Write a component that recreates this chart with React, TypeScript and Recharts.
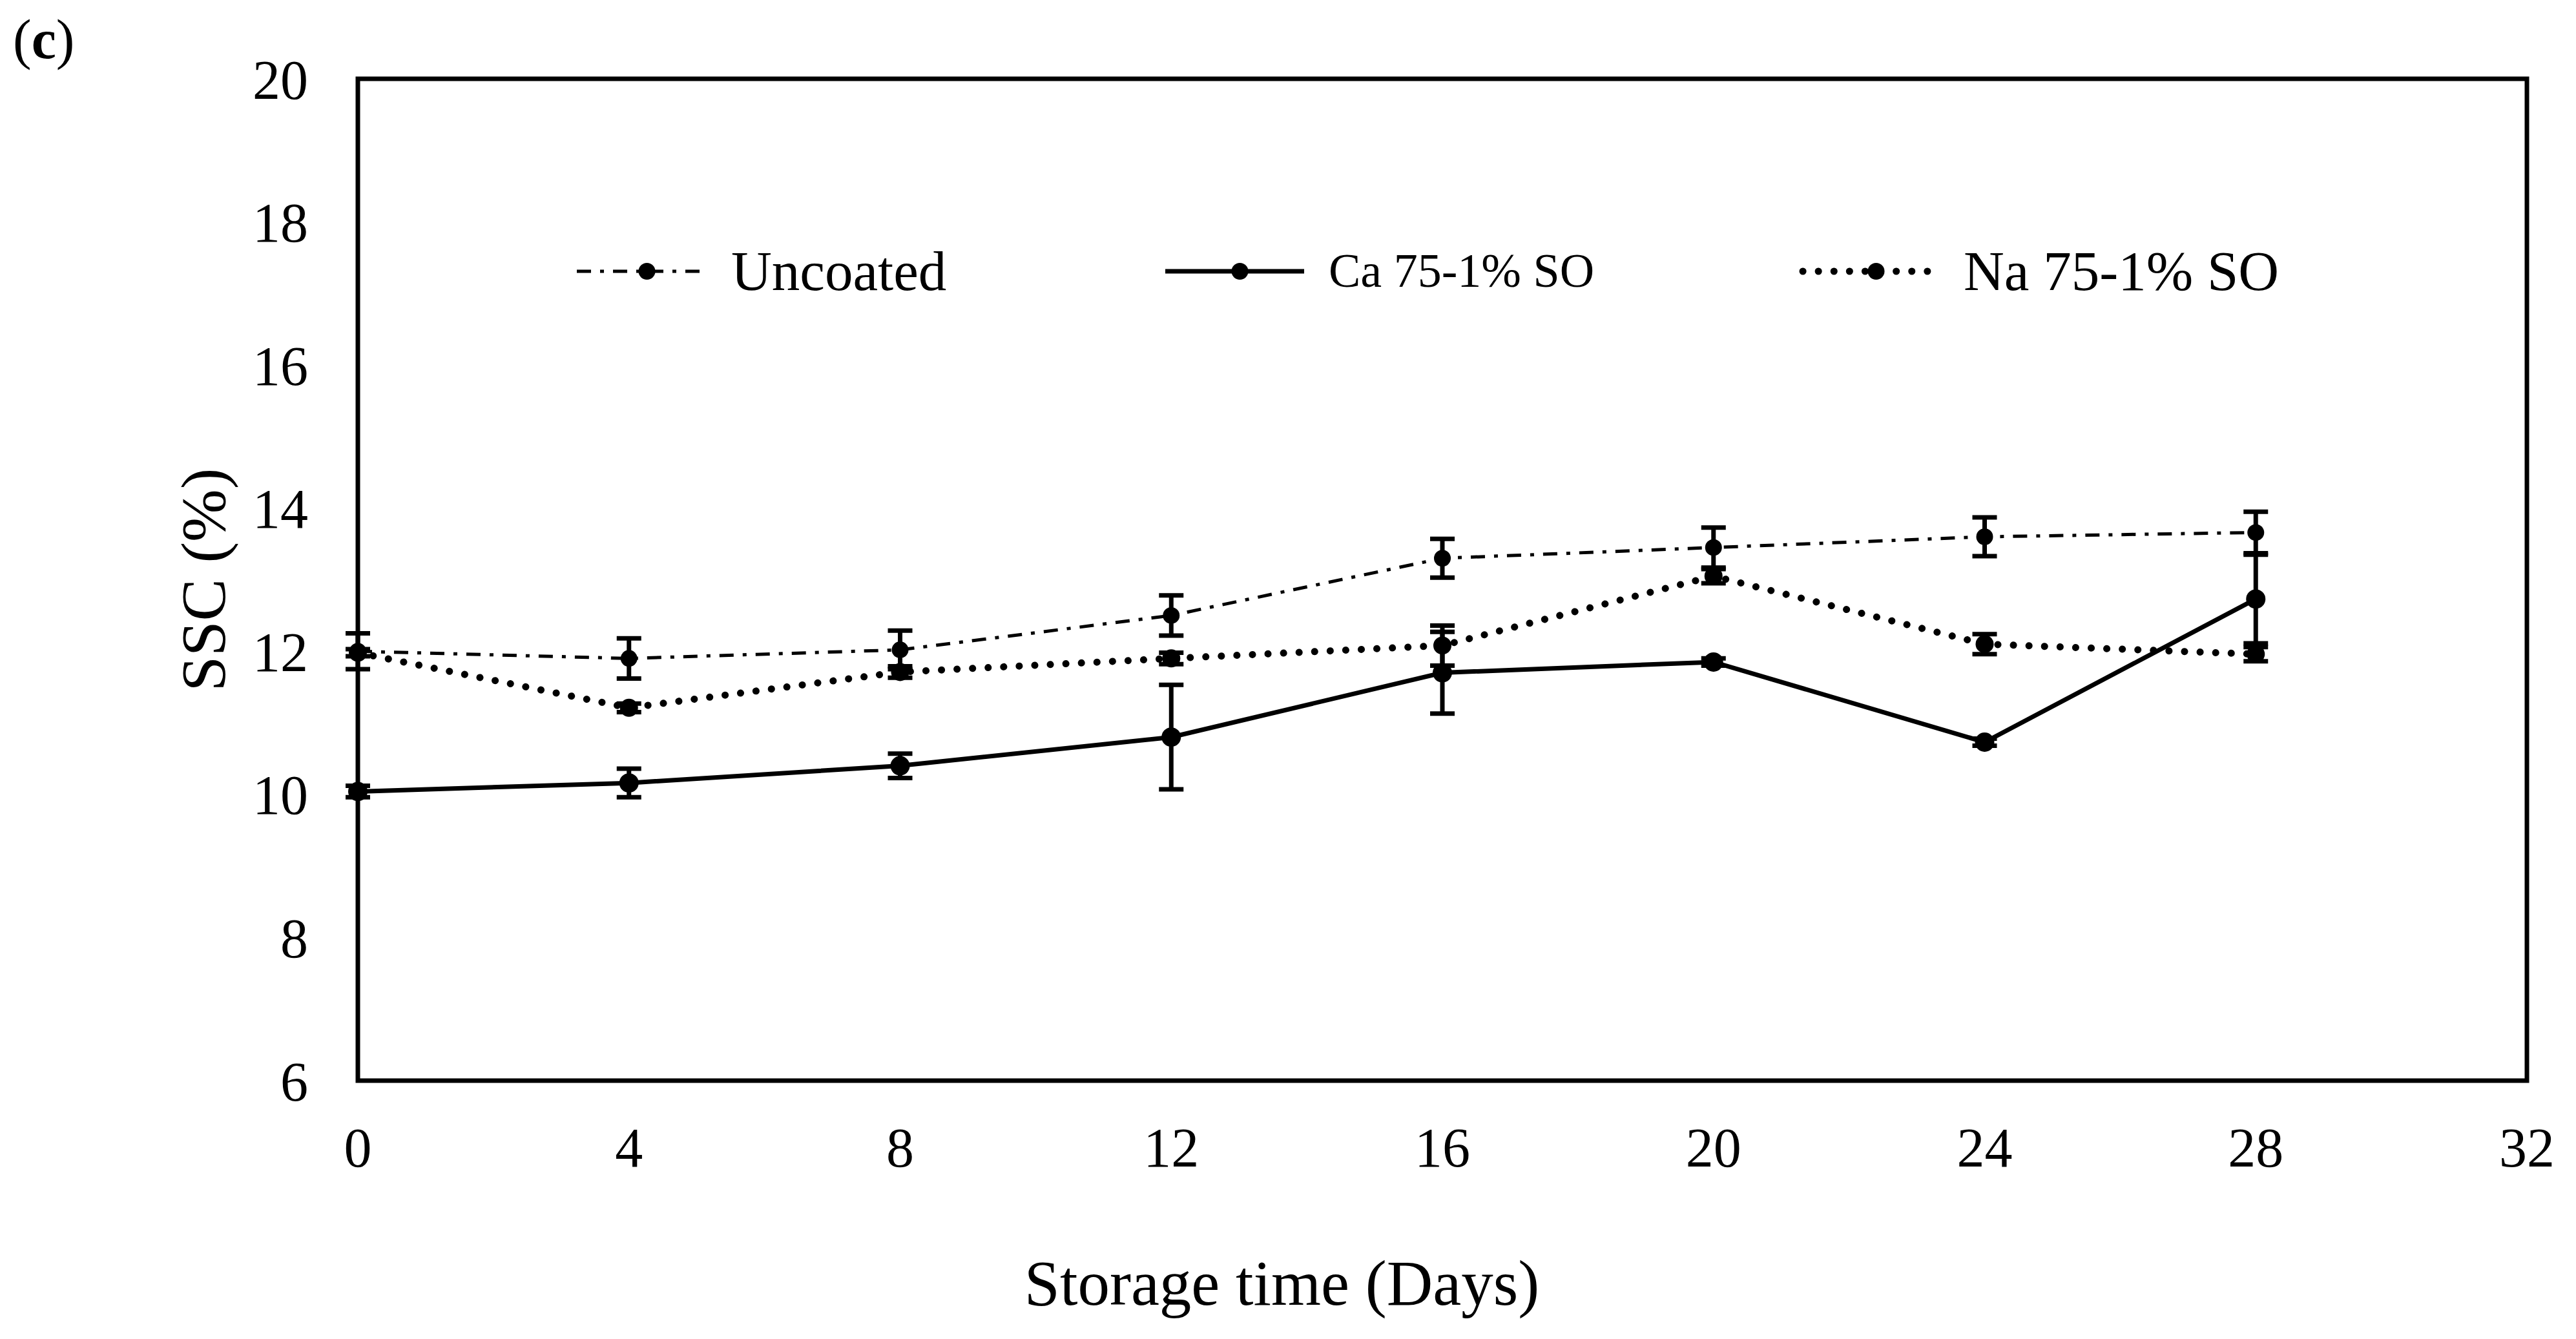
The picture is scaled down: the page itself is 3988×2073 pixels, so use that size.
import React from 'react';
import {
  LineChart,
  Line,
  XAxis,
  YAxis,
  ErrorBar,
  ReferenceArea,
  Customized
} from 'recharts';

// Storage days and measured SSC (%) with error bars
const days = [0, 4, 8, 12, 16, 20, 24, 28];
const uncoated = [12.0, 11.9, 12.02, 12.5, 13.3, 13.45, 13.6, 13.66];
const uncoatedErr = [0.25, 0.28, 0.27, 0.28, 0.27, 0.28, 0.27, 0.29];
const caSO = [10.04, 10.16, 10.4, 10.8, 11.7, 11.85, 10.73, 12.73];
const caSOErr = [0.08, 0.2, 0.17, 0.73, 0.57, 0.05, 0.05, 0.62];
const naSO = [11.98, 11.21, 11.71, 11.9, 12.08, 13.05, 12.1, 11.96];
const naSOErr = [0.05, 0.06, 0.08, 0.08, 0.28, 0.1, 0.14, 0.1];

const xTicks = [0, 4, 8, 12, 16, 20, 24, 28, 32];
const yTicks = [6, 8, 10, 12, 14, 16, 18, 20];

const FONT = '"Liberation Serif", "Times New Roman", serif';

const data = days.map((d, i) => ({
  day: d,
  uncoated: uncoated[i],
  uncoatedErr: uncoatedErr[i],
  ca: caSO[i],
  caErr: caSOErr[i],
  na: naSO[i],
  naErr: naSOErr[i]
}));

const UNC_DASH = '22 14 6 14';
const NA_DASH = '0.1 24';

// legend block + panel tag, drawn inside the svg
const legendItems = [
  { name: 'Uncoated', x: 885, len: 201, size: 87, width: 5, dash: UNC_DASH, cap: 'butt' },
  { name: 'Ca 75-1% SO', x: 1796, len: 215, size: 74, width: 7, dash: undefined, cap: 'butt' },
  { name: 'Na 75-1% SO', x: 2783, len: 211, size: 87, width: 11, dash: NA_DASH, cap: 'round' }
];

const Extras = () => {
  const ly = 412;
  return (
    <g>
      <text x={12} y={82} fontFamily={FONT} fontSize={86} fill="#000">
        (<tspan fontWeight="bold">c</tspan>)
      </text>
      {legendItems.map((it) => (
        <g key={it.name}>
          <line
            x1={it.x}
            x2={it.x + it.len}
            y1={ly}
            y2={ly}
            stroke="#000"
            strokeWidth={it.width}
            strokeDasharray={it.dash}
            strokeLinecap={it.cap as any}
          />
          <circle cx={it.x + it.len / 2 + 8} cy={ly} r={13} fill="#000" />
          <text
            x={it.x + it.len + 38}
            y={ly}
            dy="0.33em"
            fontFamily={FONT}
            fontSize={it.size}
            fill="#000"
          >
            {it.name}
          </text>
        </g>
      ))}
    </g>
  );
};

const YTitle = ({ viewBox }: any) => {
  const cx = viewBox.x + 307;
  const cy = viewBox.y + viewBox.height / 2;
  return (
    <text
      x={cx}
      y={cy}
      transform={`rotate(-90 ${cx} ${cy})`}
      textAnchor="middle"
      dominantBaseline="central"
      fontFamily={FONT}
      fontSize={98}
      fill="#000"
    >
      SSC (%)
    </text>
  );
};

const XTitle = ({ viewBox }: any) => {
  const cx = viewBox.x + viewBox.width * 0.426;
  return (
    <text
      x={cx}
      y={viewBox.y + 347}
      textAnchor="middle"
      fontFamily={FONT}
      fontSize={99}
      fill="#000"
    >
      Storage time (Days)
    </text>
  );
};

const tickStyle = { fontFamily: FONT, fontSize: 86, fill: '#000' };
const dotStyle = (r: number) => ({ r, fill: '#000', stroke: 'none', strokeWidth: 0, strokeDasharray: 'none' });

export default function App() {
  return (
    <div style={{ width: 3972, height: 2050, background: '#fff' }}>
      <LineChart
        width={3972}
        height={2050}
        data={data}
        margin={{ top: 114, right: 68, bottom: 0, left: 0 }}
      >
        <XAxis
          dataKey="day"
          type="number"
          domain={[0, 32]}
          ticks={xTicks}
          axisLine={false}
          tickLine={false}
          tickSize={0}
          tickMargin={72}
          height={385}
          tick={tickStyle}
          interval={0}
          label={{ content: XTitle }}
        />
        <YAxis
          type="number"
          domain={[6, 20]}
          ticks={yTicks}
          axisLine={false}
          tickLine={false}
          tickSize={0}
          tickMargin={77}
          width={546}
          tick={tickStyle}
          interval={0}
          label={{ content: YTitle }}
        />
        <ReferenceArea x1={0} x2={32} y1={6} y2={20} fill="none" stroke="#000" strokeWidth={7} />
        <Line
          dataKey="uncoated"
          stroke="#000"
          strokeWidth={5}
          strokeDasharray={UNC_DASH}
          dot={dotStyle(13)}
          activeDot={false}
          isAnimationActive={false}
        >
          <ErrorBar dataKey="uncoatedErr" direction="y" width={19} stroke="#000" strokeWidth={7} />
        </Line>
        <Line
          dataKey="ca"
          stroke="#000"
          strokeWidth={7}
          dot={dotStyle(15)}
          activeDot={false}
          isAnimationActive={false}
        >
          <ErrorBar dataKey="caErr" direction="y" width={19} stroke="#000" strokeWidth={7} />
        </Line>
        <Line
          dataKey="na"
          stroke="#000"
          strokeWidth={11}
          strokeDasharray={NA_DASH}
          strokeLinecap="round"
          dot={dotStyle(14)}
          activeDot={false}
          isAnimationActive={false}
        >
          <ErrorBar dataKey="naErr" direction="y" width={19} stroke="#000" strokeWidth={7} />
        </Line>
        <Customized component={Extras} />
      </LineChart>
    </div>
  );
}
